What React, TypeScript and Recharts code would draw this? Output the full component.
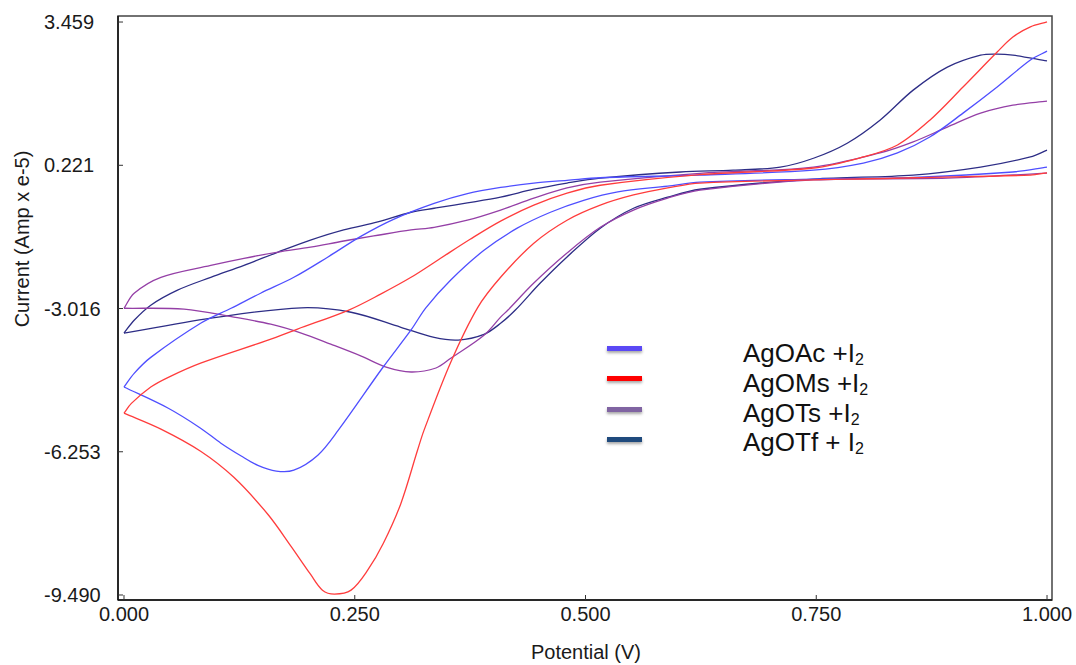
import React from "react";
import { LineChart, Line, XAxis, YAxis, ReferenceArea, Legend } from "recharts";

document.body.style.margin = "0";

// potential (V) vs current (Amp x e-5), each CV split into its two branches
const potentialTicks = [0, 0.25, 0.5, 0.75, 1.0];
const currentTicks = [-9.49, -6.253, -3.016, 0.221, 3.459];
const xDomain = [-0.0065, 1.0054];
const yDomain = [-9.603, 3.595];

const seriesNames = ["AgOAc +I", "AgOMs +I", "AgOTs +I", "AgOTf + I"];
const lineColors = ["#4f4fff", "#ff3c3c", "#943fa6", "#2d2d86"];
const legendColors = ["#5a48f5", "#ff0000", "#8064a2", "#1f4a7d"];

const agoacLower = [
  [0, -4.79], [0.048, -5.27], [0.083, -5.72], [0.105, -6.06], [0.127, -6.35],
  [0.145, -6.56], [0.165, -6.69], [0.184, -6.67], [0.21, -6.33], [0.232, -5.77],
  [0.28, -4.36], [0.311, -3.5], [0.327, -3.0], [0.354, -2.37], [0.39, -1.7],
  [0.426, -1.2], [0.462, -0.84], [0.498, -0.57], [0.535, -0.38], [0.589, -0.25],
  [0.624, -0.16], [0.747, -0.09], [0.855, -0.05], [0.963, 0.07], [1.0, 0.18],
];
const agoacUpper = [
  [0, -4.79], [0.011, -4.48], [0.029, -4.12], [0.083, -3.35], [0.116, -3.01],
  [0.148, -2.67], [0.184, -2.31], [0.221, -1.85], [0.257, -1.38], [0.292, -1.0],
  [0.336, -0.64], [0.372, -0.42], [0.408, -0.28], [0.444, -0.18], [0.48, -0.12],
  [0.516, -0.06], [0.624, 0.0], [0.747, 0.11], [0.801, 0.27], [0.838, 0.5],
  [0.873, 0.86], [0.909, 1.4], [0.946, 1.99], [0.982, 2.6], [1.0, 2.8],
];

const agomsLower = [
  [0, -5.38], [0.04, -5.74], [0.083, -6.24], [0.119, -6.83], [0.156, -7.67],
  [0.181, -8.39], [0.202, -9.02], [0.215, -9.38], [0.228, -9.47], [0.246, -9.38],
  [0.264, -8.93], [0.281, -8.32], [0.3, -7.42], [0.318, -6.22], [0.325, -5.77],
  [0.354, -4.23], [0.383, -3.0], [0.408, -2.31], [0.444, -1.54], [0.48, -1.02],
  [0.516, -0.68], [0.552, -0.45], [0.589, -0.29], [0.624, -0.18], [0.855, -0.06],
  [0.982, 0.0], [1.0, 0.05],
];
const agomsUpper = [
  [0, -5.38], [0.008, -5.16], [0.029, -4.79], [0.048, -4.57], [0.083, -4.25],
  [0.156, -3.73], [0.188, -3.48], [0.2435, -3.05], [0.278, -2.69], [0.311, -2.31],
  [0.343, -1.88], [0.375, -1.45], [0.408, -1.04], [0.444, -0.68], [0.48, -0.41],
  [0.516, -0.23], [0.624, 0.01], [0.747, 0.16], [0.801, 0.41], [0.838, 0.68],
  [0.873, 1.24], [0.909, 1.99], [0.946, 2.78], [0.963, 3.12], [0.982, 3.35],
  [1.0, 3.46],
];

const agotsLower = [
  [0, -3.01], [0.065, -3.03], [0.119, -3.21], [0.159, -3.37], [0.192, -3.57],
  [0.224, -3.82], [0.257, -4.09], [0.284, -4.34], [0.311, -4.45], [0.338, -4.36],
  [0.354, -4.14], [0.39, -3.62], [0.408, -3.21], [0.416, -3.05], [0.444, -2.44],
  [0.48, -1.76], [0.516, -1.18], [0.552, -0.79], [0.589, -0.52], [0.624, -0.34],
  [0.747, -0.11], [0.892, -0.07], [1.0, 0.045],
];
const agotsUpper = [
  [0, -3.01], [0.011, -2.67], [0.04, -2.31], [0.094, -2.04], [0.13, -1.88],
  [0.167, -1.74], [0.202, -1.63], [0.238, -1.49], [0.275, -1.36], [0.311, -1.24],
  [0.336, -1.18], [0.372, -1.02], [0.408, -0.79], [0.444, -0.52], [0.48, -0.29],
  [0.516, -0.16], [0.624, 0.04], [0.747, 0.18], [0.819, 0.5], [0.855, 0.75],
  [0.892, 1.085], [0.928, 1.4], [0.963, 1.58], [1.0, 1.67],
];

const agotfLower = [
  [0, -3.57], [0.102, -3.21], [0.192, -3.0], [0.246, -3.1], [0.3, -3.44],
  [0.336, -3.67], [0.362, -3.73], [0.39, -3.6], [0.408, -3.35], [0.424, -3.05],
  [0.451, -2.44], [0.48, -1.85], [0.516, -1.2], [0.552, -0.75], [0.589, -0.5],
  [0.624, -0.32], [0.747, -0.09], [0.855, 0.0], [0.928, 0.18], [0.982, 0.41],
  [1.0, 0.565],
];
const agotfUpper = [
  [0, -3.57], [0.011, -3.28], [0.029, -2.94], [0.058, -2.6], [0.094, -2.31],
  [0.13, -2.04], [0.167, -1.74], [0.202, -1.47], [0.238, -1.24], [0.275, -1.06],
  [0.311, -0.84], [0.336, -0.75], [0.372, -0.63], [0.408, -0.5], [0.444, -0.32],
  [0.48, -0.18], [0.516, -0.07], [0.603, 0.07], [0.66, 0.11], [0.711, 0.18],
  [0.747, 0.38], [0.7835, 0.72], [0.819, 1.24], [0.855, 1.92], [0.892, 2.44],
  [0.928, 2.71], [0.946, 2.735], [0.963, 2.71], [1.0, 2.58],
];

const branches = [
  { s: 3, pts: agotfLower }, { s: 3, pts: agotfUpper },
  { s: 2, pts: agotsLower }, { s: 2, pts: agotsUpper },
  { s: 0, pts: agoacLower }, { s: 0, pts: agoacUpper },
  { s: 1, pts: agomsLower }, { s: 1, pts: agomsUpper },
];

const font = "'Liberation Sans', Arial, sans-serif";
const textColor = "#1a1a1a";

const toPts = (arr: number[][]) => arr.map(([x, y]) => ({ x, y }));

// chord-weighted cubic through the points, so uneven spacing doesn't wobble
function smoothCurve(context: any) {
  let pts: number[][] = [];
  return {
    areaStart() {},
    areaEnd() {},
    lineStart() {
      pts = [];
    },
    point(x: number, y: number) {
      pts.push([+x, +y]);
    },
    lineEnd() {
      const n = pts.length;
      if (!n) return;
      context.moveTo(pts[0][0], pts[0][1]);
      for (let i = 0; i < n - 1; i++) {
        const p0 = pts[Math.max(i - 1, 0)];
        const p1 = pts[i];
        const p2 = pts[i + 1];
        const p3 = pts[Math.min(i + 2, n - 1)];
        const d01 = Math.hypot(p1[0] - p0[0], p1[1] - p0[1]);
        const d12 = Math.hypot(p2[0] - p1[0], p2[1] - p1[1]);
        const d23 = Math.hypot(p3[0] - p2[0], p3[1] - p2[1]);
        const t1 = d12 / (3 * (d01 + d12 || 1));
        const t2 = d12 / (3 * (d12 + d23 || 1));
        context.bezierCurveTo(
          p1[0] + (p2[0] - p0[0]) * t1,
          p1[1] + (p2[1] - p0[1]) * t1,
          p2[0] - (p3[0] - p1[0]) * t2,
          p2[1] - (p3[1] - p1[1]) * t2,
          p2[0],
          p2[1]
        );
      }
    },
  };
}

function LegendBox() {
  return (
    <div style={{ position: "relative", width: 320, height: 140, fontFamily: font, color: "#111" }}>
      {seriesNames.map((name, i) => (
        <React.Fragment key={name}>
          <div
            style={{
              position: "absolute",
              left: 7,
              top: 15.5 + i * 30.6,
              width: 35,
              height: 5,
              background: legendColors[i],
              boxShadow: "0 2px 3px rgba(0,0,0,0.35)",
            }}
          />
          <div
            style={{
              position: "absolute",
              left: 143,
              top: 8 + i * 29.8,
              fontSize: 26,
              lineHeight: "30px",
              whiteSpace: "nowrap",
            }}
          >
            {name}
            <span style={{ fontSize: 16, verticalAlign: "-3px" }}>2</span>
          </div>
        </React.Fragment>
      ))}
    </div>
  );
}

export default function App() {
  return (
    <div style={{ width: 1076, height: 665, background: "#fff" }}>
      <LineChart width={1076} height={665} margin={{ top: 16, right: 24, bottom: 0, left: 0 }}>
        <ReferenceArea
          x1={xDomain[0]}
          x2={xDomain[1]}
          y1={yDomain[0]}
          y2={yDomain[1]}
          fill="none"
          stroke="#444"
          strokeWidth={1.5}
        />
        <XAxis
          dataKey="x"
          type="number"
          domain={xDomain}
          ticks={potentialTicks}
          allowDataOverflow
          height={65}
          tickSize={-5}
          tickMargin={12}
          tickFormatter={(v) => v.toFixed(3)}
          tick={{ fontSize: 20, fill: textColor, fontFamily: font }}
          tickLine={{ stroke: "#333" }}
          axisLine={{ stroke: "#111", strokeWidth: 1.5 }}
          label={() => (
            <text x={586} y={652} textAnchor="middle" dominantBaseline="central" fontSize={20} fontFamily={font} fill={textColor}>
              Potential (V)
            </text>
          )}
        />
        <YAxis
          type="number"
          domain={yDomain}
          ticks={currentTicks}
          allowDataOverflow
          width={118}
          tickSize={-5}
          tickMargin={79}
          tickFormatter={(v) => v.toFixed(3)}
          tick={{ fontSize: 20, fill: textColor, fontFamily: font, textAnchor: "start" }}
          tickLine={{ stroke: "#333" }}
          axisLine={{ stroke: "#111", strokeWidth: 1.5 }}
          label={() => (
            <text
              x={22}
              y={239}
              transform="rotate(-90 22 239)"
              textAnchor="middle"
              dominantBaseline="central"
              fontSize={20}
              fontFamily={font}
              fill={textColor}
            >
              Current (Amp x e-5)
            </text>
          )}
        />
        {branches.map((b, i) => (
          <Line
            key={i}
            data={toPts(b.pts)}
            dataKey="y"
            name={seriesNames[b.s]}
            type={smoothCurve as any}
            stroke={lineColors[b.s]}
            strokeWidth={1.3}
            dot={false}
            activeDot={false}
            legendType="none"
            isAnimationActive={false}
          />
        ))}
        <Legend
          layout="horizontal"
          verticalAlign="middle"
          align="center"
          wrapperStyle={{ left: 600, top: 330, width: 320, height: 140 }}
          content={() => <LegendBox />}
        />
      </LineChart>
    </div>
  );
}
